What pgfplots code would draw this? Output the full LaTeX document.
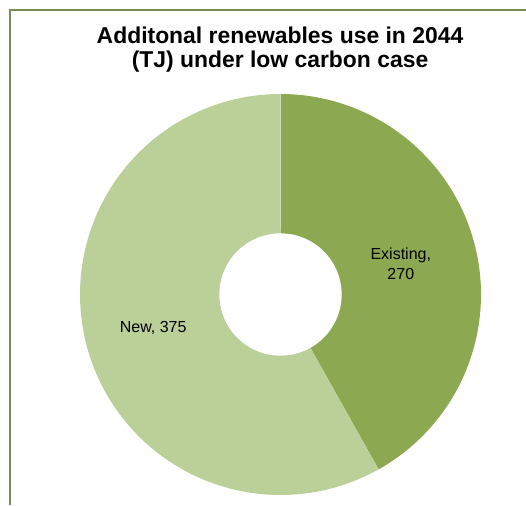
\documentclass[border=0pt]{standalone}
\usepackage{fontspec}
\setmainfont{Liberation Sans}
\usepackage{pgfplots}
\usepackage{pgfplotstable}
\pgfplotsset{compat=1.18}
\definecolor{darkg}{RGB}{140,168,80}
\definecolor{lightg}{RGB}{187,207,152}
\definecolor{framec}{RGB}{122,138,88}
\pgfplotstableread{
label value
Existing 270
New 375
}\piedata
\begin{document}
\begin{tikzpicture}
\useasboundingbox (0pt,0pt) rectangle (526pt,505pt);
\pgfplotstablegetelem{0}{value}\of\piedata \let\vA\pgfplotsretval
\pgfplotstablegetelem{1}{value}\of\piedata \let\vB\pgfplotsretval
\pgfmathsetmacro{\tot}{\vA+\vB}
\pgfmathsetmacro{\aEnd}{90-360*(\vA/\tot)}
\pgfmathsetmacro{\bEnd}{\aEnd-360*(\vB/\tot)}
\draw[framec, line width=1.5pt] (10.2pt,0pt) -- (10.2pt,494.8pt) -- (527pt,494.8pt);
\node[anchor=base, font=\fontsize{22.9}{24}\selectfont\bfseries] at (280pt,461.5pt) {Additonal renewables use in 2044};
\node[anchor=base, font=\fontsize{22.9}{24}\selectfont\bfseries] at (280pt,437pt) {(TJ) under low carbon case};
\begin{axis}[
  at={(280.5pt,210.5pt)}, anchor=center,
  width=401pt, height=401pt, scale only axis,
  xmin=-1, xmax=1, ymin=-1, ymax=1,
  hide axis, clip=false,
]
\addplot[fill=darkg, draw=none, domain=\aEnd:90, samples=120] ({cos(x)},{sin(x)}) -- (axis cs:0,0) -- cycle;
\addplot[fill=lightg, draw=none, domain=\bEnd:\aEnd, samples=160] ({cos(x)},{sin(x)}) -- (axis cs:0,0) -- cycle;
\addplot[fill=white, draw=none, domain=0:360, samples=120] ({0.305*cos(x)},{0.305*sin(x)}) -- cycle;
\node[font=\fontsize{16}{20}\selectfont, align=center, anchor=base] at (axis cs:0.6,0.075) {Existing,\\270};
\node[font=\fontsize{16}{20}\selectfont, anchor=base] at (axis cs:-0.635,-0.19) {New, 375};
\end{axis}
\end{tikzpicture}
\end{document}
